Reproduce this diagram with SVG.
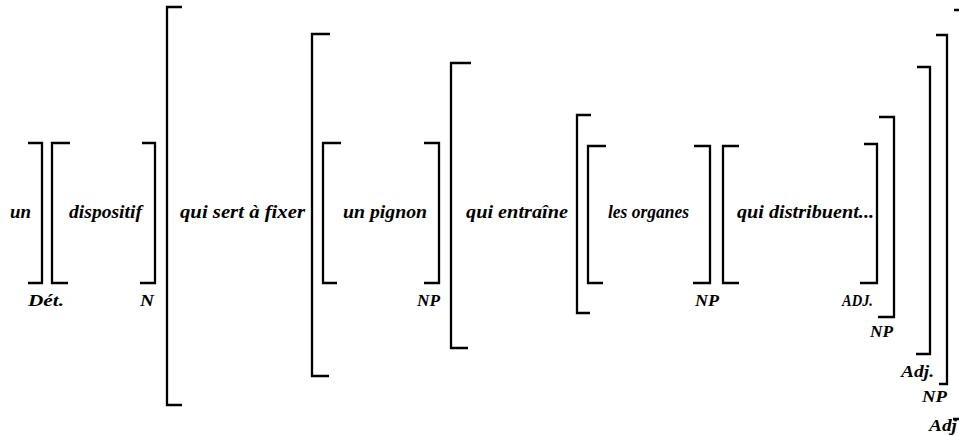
<svg xmlns="http://www.w3.org/2000/svg" width="959" height="435" viewBox="0 0 959 435">
<style>
.b{fill:none;stroke:#000;stroke-width:2.3;stroke-linejoin:miter;stroke-linecap:butt}
.t{font-family:"Liberation Serif","DejaVu Serif",serif;font-style:italic;font-weight:bold;font-size:17px;fill:#000}
.w{font-size:19px}
</style>
<rect width="959" height="435" fill="#fff"/>
<g id="brackets">
<path class="b" d="M28,143H42V283H28"/>
<path class="b" d="M70,143H52V283H68"/>
<path class="b" d="M142,143H155V283H140"/>
<path class="b" d="M182,7H167V405H182"/>
<path class="b" d="M330,34H312V376H329"/>
<path class="b" d="M341,143H323V283H337"/>
<path class="b" d="M424,143H439V283H424"/>
<path class="b" d="M471,63H451V348H468"/>
<path class="b" d="M591,115H577V313H590"/>
<path class="b" d="M606,146H588V283H603"/>
<path class="b" d="M694,146H710V283H693"/>
<path class="b" d="M739,146H723V283H739"/>
<path class="b" d="M864,144H877V283H860"/>
<path class="b" d="M879,117H894V317H878"/>
<path class="b" d="M917,67H930V354H916"/>
<path class="b" d="M936,35H947V384H939"/>
<path class="b" d="M954,10H962V419H953"/>
</g>
<g id="words">
<text class="t w" x="10" y="218" textLength="21" lengthAdjust="spacingAndGlyphs">un</text>
<text class="t w" x="69" y="218" textLength="73" lengthAdjust="spacingAndGlyphs">dispositif</text>
<text class="t w" x="180" y="218" textLength="125" lengthAdjust="spacingAndGlyphs">qui sert à fixer</text>
<text class="t w" x="343" y="218" textLength="84" lengthAdjust="spacingAndGlyphs">un pignon</text>
<text class="t w" x="466" y="218" textLength="102" lengthAdjust="spacingAndGlyphs">qui entraîne</text>
<text class="t w" x="608" y="218" textLength="81" lengthAdjust="spacingAndGlyphs">les organes</text>
<text class="t w" x="737" y="218" textLength="137" lengthAdjust="spacingAndGlyphs">qui distribuent...</text>
</g>
<g id="labels">
<text class="t" x="28" y="306" textLength="36" lengthAdjust="spacingAndGlyphs">Dét.</text>
<text class="t" x="140" y="306" textLength="14" lengthAdjust="spacingAndGlyphs">N</text>
<text class="t" x="417" y="306" textLength="23" lengthAdjust="spacingAndGlyphs">NP</text>
<text class="t" x="695" y="306" textLength="24" lengthAdjust="spacingAndGlyphs">NP</text>
<text class="t" x="842" y="306" textLength="31" lengthAdjust="spacingAndGlyphs">ADJ.</text>
<text class="t" x="870" y="337" textLength="23" lengthAdjust="spacingAndGlyphs">NP</text>
<text class="t" x="901" y="377" textLength="33" lengthAdjust="spacingAndGlyphs">Adj.</text>
<text class="t" x="922" y="402" textLength="25" lengthAdjust="spacingAndGlyphs">NP</text>
<text class="t" x="929" y="431" textLength="28" lengthAdjust="spacingAndGlyphs">Adj</text>
</g>
</svg>
